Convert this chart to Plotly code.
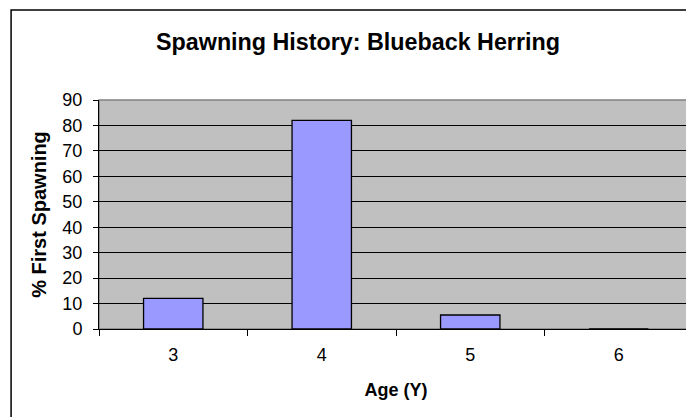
import plotly.graph_objects as go

ages = ["3", "4", "5", "6"]
pct_first_spawning = [12, 82, 5.5, 0]

fig = go.Figure()
fig.add_trace(go.Bar(
    x=ages, y=pct_first_spawning,
    marker=dict(color="#9999FF", line=dict(color="black", width=1.3)),
    width=0.4,
))

font_family = "Liberation Sans, Arial, sans-serif"
W, H = 686, 409
fig.update_layout(
    width=W, height=H,
    margin=dict(l=91, r=1, t=92, b=88),
    paper_bgcolor="white",
    plot_bgcolor="#C0C0C0",
    showlegend=False,
    font=dict(family=font_family, size=18, color="black"),
    title=dict(text="<b>Spawning History: Blueback Herring</b>",
               x=350 / W, xref="container", xanchor="center",
               y=1 - 34 / H, yref="container", yanchor="middle",
               font=dict(size=23.3, family=font_family)),
    xaxis=dict(
        type="category",
        showgrid=False,
        showline=True, linecolor="black", linewidth=1,
        ticks="outside", ticklen=6, tickcolor="black", tickson="boundaries",
        ticklabelstandoff=9,
        title=dict(text="<b>Age (Y)</b>", font=dict(size=18), standoff=19),
        tickfont=dict(size=18),
    ),
    yaxis=dict(
        range=[0, 90], dtick=10,
        showgrid=True, gridcolor="black", gridwidth=1,
        showline=True, linecolor="black", linewidth=1,
        ticks="outside", ticklen=5, tickcolor="black",
        ticklabelstandoff=7,
        zeroline=False,
        title=dict(text="<b>% First Spawning</b>", font=dict(size=20), standoff=10),
        tickfont=dict(size=18),
    ),
    bargap=0.6,
)

# plot area border (gray) and outer chart border (black)
fig.add_shape(type="rect", xref="paper", yref="paper", x0=0, x1=1, y0=0, y1=1,
              line=dict(color="#808080", width=1.5), layer="below")
fig.add_shape(type="rect", xref="paper", yref="paper",
              x0=-0.148, x1=1.05, y0=-0.6, y1=1.393,
              line=dict(color="black", width=1.5))

fig.write_html("out.html")
